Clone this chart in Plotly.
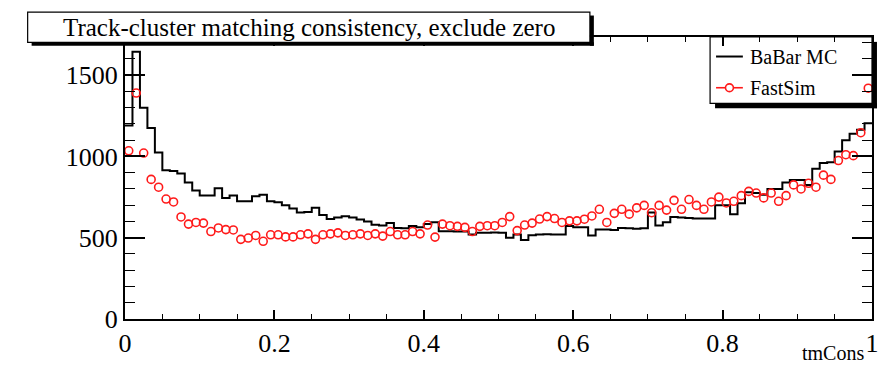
import numpy as np
import plotly.graph_objects as go

# tmCons histograms: 100 bins on [0, 1]
n_bins = 100
x_lo, x_hi = 0.0, 1.0

babar_mc = [
    1190, 1645, 1300, 1175, 1025, 915, 910, 895, 840, 790,
    760, 760, 805, 745, 760, 725, 724, 755, 765, 724,
    718, 700, 680, 655, 658, 684, 640, 615, 624, 632,
    625, 612, 600, 580, 575, 590, 560, 558, 572, 565,
    585, 595, 540, 540, 538, 538, 520, 530, 530, 532,
    530, 500, 520, 486, 515, 520, 522, 520, 520, 572,
    565, 565, 514, 550, 550, 548, 560, 558, 556, 558,
    655, 575, 595, 628, 625, 622, 618, 618, 618, 700,
    700, 645, 712, 780, 775, 765, 800, 800, 840, 855,
    855, 825, 925, 960, 965, 1030, 1100, 1140, 1165, 1205,
]

fastsim = [
    1035, 1390, 1021, 859, 811, 738, 720, 628, 584, 594,
    590, 538, 560, 550, 548, 490, 498, 514, 478, 518,
    518, 505, 505, 518, 524, 490, 518, 524, 530, 514,
    518, 524, 514, 524, 510, 538, 518, 518, 538, 524,
    578, 504, 584, 574, 570, 564, 538, 570, 574, 574,
    594, 630, 544, 578, 590, 615, 630, 618, 594, 604,
    604, 614, 634, 675, 594, 650, 675, 645, 684, 699,
    654, 699, 670, 730, 675, 735, 699, 675, 720, 750,
    714, 724, 759, 785, 775, 745, 775, 724, 759, 825,
    800, 835, 811, 885, 859, 975, 1011, 1005, 1146, 1420,
]

y_ticks = [0, 500, 1000, 1500]
x_ticks = [0, 0.2, 0.4, 0.6, 0.8, 1]
x_tick_text = ["0", "0.2", "0.4", "0.6", "0.8", "1"]

title_text = "Track-cluster matching consistency, exclude zero"
legend_names = ["BaBar MC", "FastSim"]
x_title = "tmCons"

edges = np.linspace(x_lo, x_hi, n_bins + 1)
centers = 0.5 * (edges[:-1] + edges[1:])

SERIF = "Liberation Serif, Times New Roman, serif"
RED = "#ff1a1a"

fig = go.Figure()

# BaBar MC drawn as a step histogram
fig.add_trace(go.Scatter(
    x=list(edges[:-1]) + [edges[-1]],
    y=list(babar_mc) + [babar_mc[-1]],
    mode="lines",
    line=dict(color="black", width=2, shape="hv"),
    name=legend_names[0],
    showlegend=False,
    hoverinfo="skip",
))

# FastSim drawn as open circles at bin centres
fig.add_trace(go.Scatter(
    x=centers,
    y=fastsim,
    mode="markers",
    marker=dict(symbol="circle-open", size=8, color=RED,
                line=dict(width=1.6, color=RED)),
    name=legend_names[1],
    showlegend=False,
    hoverinfo="skip",
))

# pixel geometry of the frame
W_FIG, H_FIG = 891, 370
L, R, T, B = 125, 877, 37, 326
PW, PH = R - L, B - T


def px(x):
    return (x - L) / PW


def py(y):
    return (B - y) / PH


shapes = []
# title box: shadow strips then white box
shapes.append(dict(type="rect", xref="paper", yref="paper",
                   x0=px(593), x1=px(597), y0=py(46), y1=py(15),
                   fillcolor="black", line=dict(width=0), layer="above"))
shapes.append(dict(type="rect", xref="paper", yref="paper",
                   x0=px(31), x1=px(597), y0=py(46), y1=py(42.5),
                   fillcolor="black", line=dict(width=0), layer="above"))
shapes.append(dict(type="rect", xref="paper", yref="paper",
                   x0=px(27), x1=px(593), y0=py(42.5), y1=py(11.5),
                   fillcolor="white", line=dict(color="black", width=1.2),
                   layer="above"))
# legend box (unfilled) with shadow strips
shapes.append(dict(type="rect", xref="paper", yref="paper",
                   x0=px(877), x1=px(882), y0=py(110), y1=py(42),
                   fillcolor="black", line=dict(width=0), layer="above"))
shapes.append(dict(type="rect", xref="paper", yref="paper",
                   x0=px(719), x1=px(882), y0=py(110), y1=py(105),
                   fillcolor="black", line=dict(width=0), layer="above"))
shapes.append(dict(type="rect", xref="paper", yref="paper",
                   x0=px(714), x1=px(877), y0=py(105), y1=py(37),
                   fillcolor="rgba(0,0,0,0)", line=dict(color="black", width=1.2),
                   layer="above"))
# legend symbols
shapes.append(dict(type="line", xref="paper", yref="paper",
                   x0=px(720), x1=px(747), y0=py(57), y1=py(57),
                   line=dict(color="black", width=2), layer="above"))
shapes.append(dict(type="line", xref="paper", yref="paper",
                   x0=px(720), x1=px(747), y0=py(89), y1=py(89),
                   line=dict(color=RED, width=1.6), layer="above"))
shapes.append(dict(type="circle", xref="paper", yref="paper",
                   x0=px(729.5), x1=px(737.5), y0=py(93), y1=py(85),
                   fillcolor="white", line=dict(color=RED, width=1.6),
                   layer="above"))

annotations = [
    dict(text=title_text, xref="paper", yref="paper",
         x=px(310), y=py(27), xanchor="center", yanchor="middle",
         showarrow=False, font=dict(family=SERIF, size=25, color="black")),
    dict(text=legend_names[0], xref="paper", yref="paper",
         x=px(752), y=py(57), xanchor="left", yanchor="middle",
         showarrow=False, font=dict(family=SERIF, size=20, color="black")),
    dict(text=legend_names[1], xref="paper", yref="paper",
         x=px(752), y=py(89), xanchor="left", yanchor="middle",
         showarrow=False, font=dict(family=SERIF, size=20, color="black")),
    dict(text=x_title, xref="paper", yref="paper",
         x=px(871), y=py(361), xanchor="right", yanchor="middle",
         showarrow=False, font=dict(family=SERIF, size=20, color="black")),
]

fig.update_layout(
    width=W_FIG, height=H_FIG,
    margin=dict(l=L, r=W_FIG - R, t=T, b=H_FIG - B, pad=0),
    paper_bgcolor="white", plot_bgcolor="white",
    shapes=shapes, annotations=annotations,
    showlegend=False,
)

fig.update_xaxes(
    range=[x_lo, x_hi], tickvals=x_ticks, ticktext=x_tick_text,
    showgrid=False, zeroline=False,
    showline=True, linecolor="black", linewidth=2, mirror="ticks",
    ticks="inside", ticklen=9, tickwidth=1.5, tickcolor="black",
    minor=dict(ticks="inside", ticklen=5, tickwidth=1.2, tickcolor="black",
               dtick=0.05, showgrid=False),
    tickfont=dict(family=SERIF, size=26, color="black"),
)
fig.update_yaxes(
    range=[0, 1735], tickvals=y_ticks,
    showgrid=False, zeroline=False,
    showline=True, linecolor="black", linewidth=2, mirror="ticks",
    ticks="inside", ticklen=20, tickwidth=1.5, tickcolor="black",
    minor=dict(ticks="inside", ticklen=10, tickwidth=1.2, tickcolor="black",
               dtick=100, showgrid=False),
    tickfont=dict(family=SERIF, size=26, color="black"),
)

fig.write_html("out.html")
